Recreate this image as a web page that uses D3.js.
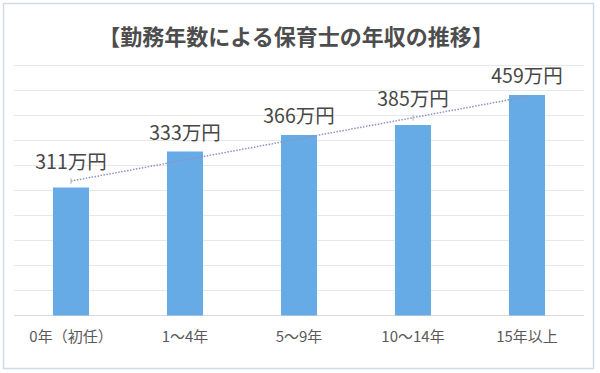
<!DOCTYPE html>
<html>
<head>
<meta charset="utf-8">
<script src="https://cdn.jsdelivr.net/npm/d3@7/dist/d3.min.js"></script>
<style>
  html, body { margin: 0; padding: 0; background: #ffffff; }
  svg { display: block; }
  text { font-family: "Noto Sans CJK JP", "Noto Sans", sans-serif; }
</style>
</head>
<body>
<svg id="chart" width="600" height="373"></svg>
<script>
// ---- data ----
const title = "【勤務年数による保育士の年収の推移】";
const categories = ["0年（初任）", "1～4年", "5～9年", "10～14年", "15年以上"];
// bar heights (axis 0–500)
const barValues = [256, 328, 361, 381, 441];
// printed data labels (万円)
const labelValues = [311, 333, 366, 385, 459];
const labelUnit = "万円";
const yDomain = [0, 500];
const yTickCount = 10;

// ---- layout ----
const svg = d3.select("#chart");

svg.append("rect")
  .attr("x", 3.5).attr("y", 3.5)
  .attr("width", 590).attr("height", 365)
  .attr("fill", "#ffffff")
  .attr("stroke", "#cfdbe5")
  .attr("stroke-width", 1.5);

const x = d3.scaleBand()
  .domain(categories)
  .range([14, 584])
  .paddingInner(0.684)
  .paddingOuter(0.342);

const y = d3.scaleLinear()
  .domain(yDomain)
  .range([315.5, 65.5]);

// gridlines
svg.append("g")
  .selectAll("line")
  .data(y.ticks(yTickCount))
  .join("line")
  .attr("x1", 14).attr("x2", 584)
  .attr("y1", d => y(d)).attr("y2", d => y(d))
  .attr("stroke", d => d === 0 ? "#d9d9d9" : "#e8e8e8")
  .attr("stroke-width", 1);

// bars
svg.append("g")
  .selectAll("rect")
  .data(barValues)
  .join("rect")
  .attr("x", (d, i) => x(categories[i]))
  .attr("width", x.bandwidth())
  .attr("y", d => y(d))
  .attr("height", d => y(0) - y(d))
  .attr("fill", "#67abe6");

// linear trendline (least squares on the bar values)
const n = barValues.length;
const idx = d3.range(n);
const mx = d3.mean(idx), my = d3.mean(barValues);
const slope = d3.sum(idx, i => (i - mx) * (barValues[i] - my)) / d3.sum(idx, i => (i - mx) ** 2);
const intercept = my - slope * mx;
const trend = i => intercept + slope * i;
const cx = i => x(categories[i]) + x.bandwidth() / 2;

svg.append("line")
  .attr("x1", cx(0)).attr("y1", y(trend(0)))
  .attr("x2", cx(n - 1)).attr("y2", y(trend(n - 1)))
  .attr("stroke", "#8d92c2")
  .attr("stroke-width", 1.5)
  .attr("stroke-dasharray", "1.5,1.5");

// data labels (placed above bar top or trendline, whichever is higher)
const labelY = i => Math.min(y(barValues[i]), y(trend(i))) - 12;

// leader lines where the label sits above the trendline
svg.append("g")
  .selectAll("line")
  .data(idx.filter(i => y(trend(i)) < y(barValues[i])))
  .join("line")
  .attr("x1", i => cx(i)).attr("x2", i => cx(i))
  .attr("y1", i => labelY(i) + 9)
  .attr("y2", i => y(trend(i)) + 3)
  .attr("stroke", "#b5b5b5")
  .attr("stroke-width", 1);

svg.append("g")
  .selectAll("text")
  .data(labelValues)
  .join("text")
  .attr("x", (d, i) => cx(i))
  .attr("y", (d, i) => labelY(i))
  .attr("text-anchor", "middle")
  .attr("font-size", 19.5)
  .attr("fill", "#474747")
  .text(d => d + labelUnit);

// x axis labels
const xAxis = d3.axisBottom(x).tickSize(0).tickPadding(0);
const gx = svg.append("g")
  .attr("transform", "translate(0,342)")
  .call(xAxis);
gx.select(".domain").remove();
gx.selectAll("text")
  .attr("dy", 0)
  .attr("y", 0)
  .attr("font-size", 15)
  .attr("font-family", "'Noto Sans CJK JP', sans-serif")
  .attr("fill", "#595959");

// title
svg.append("text")
  .attr("x", 296)
  .attr("y", 45)
  .attr("text-anchor", "middle")
  .attr("font-size", 22)
  .attr("font-weight", "bold")
  .attr("fill", "#4d4d4d")
  .text(title);
</script>
</body>
</html>
